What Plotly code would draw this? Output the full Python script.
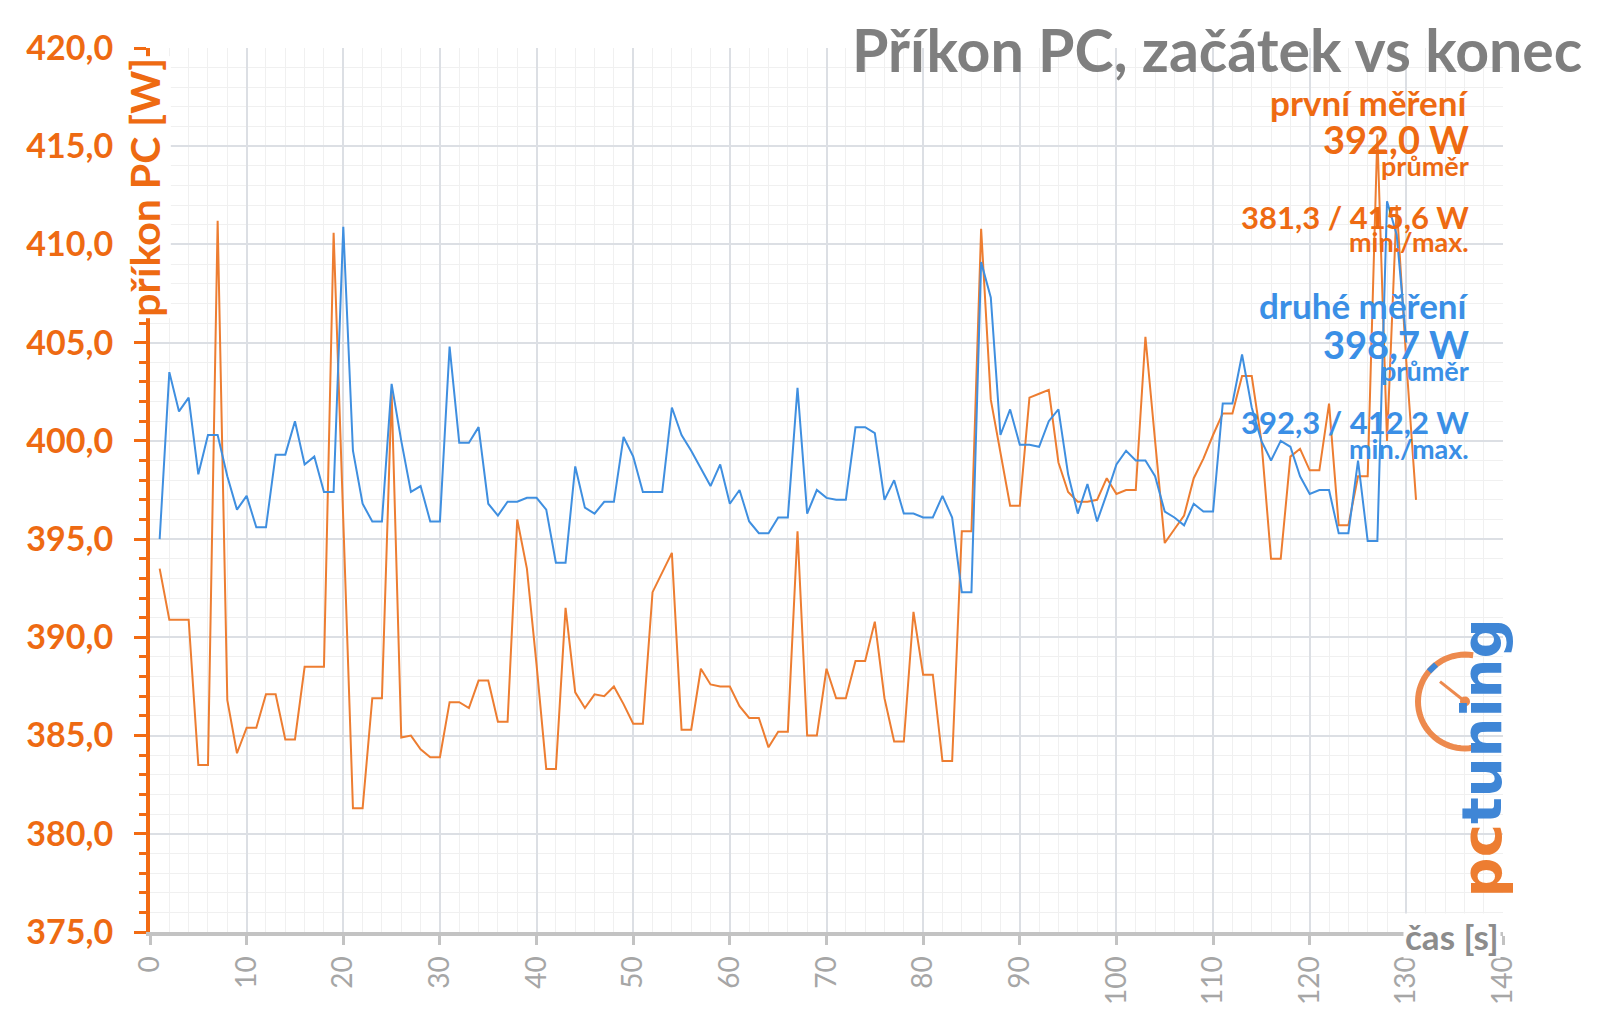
import math
import plotly.graph_objects as go

# ---------------- data ----------------
time_prvni = list(range(1, 132))
prvni = [393.5, 390.9, 390.9, 390.9, 383.5, 383.5, 411.2, 386.8, 384.1, 385.4,
         385.4, 387.1, 387.1, 384.8, 384.8, 388.5, 388.5, 388.5, 410.6, 396.0,
         381.3, 381.3, 386.9, 386.9, 402.5, 384.9, 385.0, 384.3, 383.9, 383.9,
         386.7, 386.7, 386.4, 387.8, 387.8, 385.7, 385.7, 396.0, 393.5, 388.6,
         383.3, 383.3, 391.5, 387.2, 386.4, 387.1, 387.0, 387.5, 386.6, 385.6,
         385.6, 392.3, 393.3, 394.3, 385.3, 385.3, 388.4, 387.6, 387.5, 387.5,
         386.5, 385.9, 385.9, 384.4, 385.2, 385.2, 395.4, 385.0, 385.0, 388.4,
         386.9, 386.9, 388.8, 388.8, 390.8, 386.9, 384.7, 384.7, 391.3, 388.1,
         388.1, 383.7, 383.7, 395.4, 395.4, 410.8, 402.1, 399.5, 396.7, 396.7,
         402.2, 402.4, 402.6, 398.9, 397.4, 396.9, 396.9, 397.0, 398.1, 397.3,
         397.5, 397.5, 405.3, 400.0, 394.8, 395.5, 396.2, 398.1, 399.1, 400.3,
         401.4, 401.4, 403.3, 403.3, 400.0, 394.0, 394.0, 399.2, 399.6, 398.5,
         398.5, 401.9, 395.7, 395.7, 398.2, 398.2, 415.6, 400.0, 412.0, 404.0,
         397.0]

time_druhe = list(range(1, 131))
druhe = [395.0, 403.5, 401.5, 402.2, 398.3, 400.3, 400.3, 398.2, 396.5, 397.2,
         395.6, 395.6, 399.3, 399.3, 401.0, 398.8, 399.2, 397.4, 397.4, 410.9,
         399.5, 396.8, 395.9, 395.9, 402.9, 400.0, 397.4, 397.7, 395.9, 395.9,
         404.8, 399.9, 399.9, 400.7, 396.8, 396.2, 396.9, 396.9, 397.1, 397.1,
         396.5, 393.8, 393.8, 398.7, 396.6, 396.3, 396.9, 396.9, 400.2, 399.2,
         397.4, 397.4, 397.4, 401.7, 400.3, 399.5, 398.6, 397.7, 398.8, 396.8,
         397.5, 395.9, 395.3, 395.3, 396.1, 396.1, 402.7, 396.3, 397.5, 397.1,
         397.0, 397.0, 400.7, 400.7, 400.4, 397.0, 398.0, 396.3, 396.3, 396.1,
         396.1, 397.2, 396.1, 392.3, 392.3, 409.1, 407.3, 400.3, 401.6, 399.8,
         399.8, 399.7, 401.0, 401.6, 398.3, 396.3, 397.8, 395.9, 397.3, 398.8,
         399.5, 399.0, 399.0, 398.2, 396.4, 396.1, 395.7, 396.8, 396.4, 396.4,
         401.9, 401.9, 404.4, 401.7, 400.0, 399.0, 400.0, 399.7, 398.2, 397.3,
         397.5, 397.5, 395.3, 395.3, 399.0, 394.9, 394.9, 412.2, 410.5, 405.0]

x_ticks = list(range(0, 141, 10))
y_ticks = [375, 380, 385, 390, 395, 400, 405, 410, 415, 420]

title_text = "Příkon PC, začátek vs konec"
y_title = "příkon PC [W]"
x_title = "čas [s]"
series1_name = "první měření"
series2_name = "druhé měření"
series1_stats = ["392,0 W", "průměr", "381,3 / 415,6 W", "min./max."]
series2_stats = ["398,7 W", "průměr", "392,3 / 412,2 W", "min./max."]

# ---------------- styling ----------------
W, H = 1600, 1017
L, R, T, B = 150, 97, 48, 83
PW, PH = W - L - R, H - T - B

ORANGE_LINE = "#ED7D31"
BLUE_LINE = "#3F8FE0"
ORANGE_TXT = "#EE6A12"
BLUE_TXT = "#3A8FE6"
GRAY_TXT = "#7F7F7F"
FONT = "Lato"


def px(xp, yp):
    return (xp - L) / PW, 1 - (yp - T) / PH


fig = go.Figure()
fig.add_trace(go.Scatter(x=time_prvni, y=prvni, mode="lines",
                         line=dict(color=ORANGE_LINE, width=2), name=series1_name))
fig.add_trace(go.Scatter(x=time_druhe, y=druhe, mode="lines",
                         line=dict(color=BLUE_LINE, width=2), name=series2_name))

ann = []


def add_text(text, xp, yp, size, color, xanchor="right", bold=True, bg=None, angle=0):
    x, y = px(xp, yp)
    d = dict(text=("<b>%s</b>" % text) if bold else text, x=x, y=y, xref="paper", yref="paper",
             xanchor=xanchor, yanchor="middle", showarrow=False, textangle=angle,
             font=dict(family=FONT, size=size, color=color))
    if bg:
        d["bgcolor"] = bg
    ann.append(d)


add_text(title_text, 1584, 50, 59, GRAY_TXT)

RX = 1471
add_text(series1_name, RX, 102, 35, ORANGE_TXT)
add_text(series1_stats[0], RX, 139, 38, ORANGE_TXT)
add_text(series1_stats[1], RX, 166, 27, ORANGE_TXT)
add_text(series1_stats[2], RX, 217, 31, ORANGE_TXT)
add_text(series1_stats[3], RX, 242, 27, ORANGE_TXT)
add_text(series2_name, RX, 306, 35, BLUE_TXT)
add_text(series2_stats[0], RX, 345, 38, BLUE_TXT)
add_text(series2_stats[1], RX, 371, 27, BLUE_TXT)
add_text(series2_stats[2], RX, 423, 31, BLUE_TXT)
add_text(series2_stats[3], RX, 449, 27, BLUE_TXT)

# axis titles
xa, ya = px(145, 188)
ann.append(dict(text="<b>%s</b>" % y_title, x=xa, y=ya, xref="paper", yref="paper",
                xanchor="center", yanchor="middle", showarrow=False, textangle=-90,
                bgcolor="white", font=dict(family=FONT, size=41, color=ORANGE_TXT)))
add_text(x_title, 1501, 938, 35, "#8C8C8C", bg="white")

# logo
lx, ly = px(1481, 760)
ann.append(dict(text="<b><span style='color:#ED7D31'>pc</span><span style='color:#3F86D6'>tuning</span></b>",
                x=lx, y=ly, xref="paper", yref="paper", xanchor="center", yanchor="middle",
                showarrow=False, textangle=-90,
                font=dict(family="DejaVu Sans", size=56, color="#3F86D6")))

shapes = []
cx, cy, r = 1465, 703, 47
pts = []
for i in range(0, 41):
    a = math.radians(80 + i * 200 / 40)
    pts.append(px(cx + r * math.cos(a), cy - r * math.sin(a)))
path = "M " + " L ".join("%f,%f" % p for p in pts)
shapes.append(dict(type="path", path=path, xref="paper", yref="paper",
                   line=dict(color="#ED8A4E", width=6)))
b_pts = []
for ang in (128, 140):
    a = math.radians(ang)
    b_pts.append(px(cx + r * math.cos(a), cy - r * math.sin(a)))
shapes.append(dict(type="line", x0=b_pts[0][0], y0=b_pts[0][1], x1=b_pts[1][0], y1=b_pts[1][1],
                   xref="paper", yref="paper", line=dict(color="#3F86D6", width=6)))
n0 = px(1440, 683)
n1 = px(1465, 703)
shapes.append(dict(type="line", x0=n0[0], y0=n0[1], x1=n1[0], y1=n1[1], xref="paper", yref="paper",
                   line=dict(color="#ED8A4E", width=3)))
c0 = px(1460, 698)
c1 = px(1470, 708)
shapes.append(dict(type="circle", x0=c0[0], y0=c0[1], x1=c1[0], y1=c1[1], xref="paper", yref="paper",
                   fillcolor="#ED8A4E", line=dict(width=0)))

fig.update_layout(
    width=W, height=H,
    margin=dict(l=L, r=R, t=T, b=B, pad=0),
    paper_bgcolor="white", plot_bgcolor="white",
    showlegend=False,
    separators=", ",
    annotations=ann,
    shapes=shapes,
    xaxis=dict(range=[0, 140], tickvals=x_ticks, tickangle=-90,
               showgrid=True, gridcolor="#DCDFE4", gridwidth=2,
               minor=dict(dtick=2, showgrid=True, gridcolor="#F0F0F0", gridwidth=1),
               showline=True, linecolor="#C3C3C3", linewidth=4,
               ticks="outside", ticklen=9, tickwidth=3, tickcolor="#C3C3C3",
               tickfont=dict(family=FONT, size=28, color="#A6A6A6"),
               zeroline=False),
    yaxis=dict(range=[375, 420], tickvals=y_ticks, tickformat=".1f",
               showgrid=True, gridcolor="#DCDFE4", gridwidth=2,
               minor=dict(dtick=1, showgrid=True, gridcolor="#F0F0F0", gridwidth=1,
                          ticks="outside", ticklen=7, tickwidth=3, tickcolor="#F26B12"),
               showline=True, linecolor="#F26B12", linewidth=4,
               ticks="outside", ticklen=12, tickwidth=3, tickcolor="#F26B12",
               ticklabelstandoff=14,
               tickfont=dict(family=FONT, size=34, color=ORANGE_TXT, weight="bold"),
               zeroline=False),
)

fig.write_html("out.html")
